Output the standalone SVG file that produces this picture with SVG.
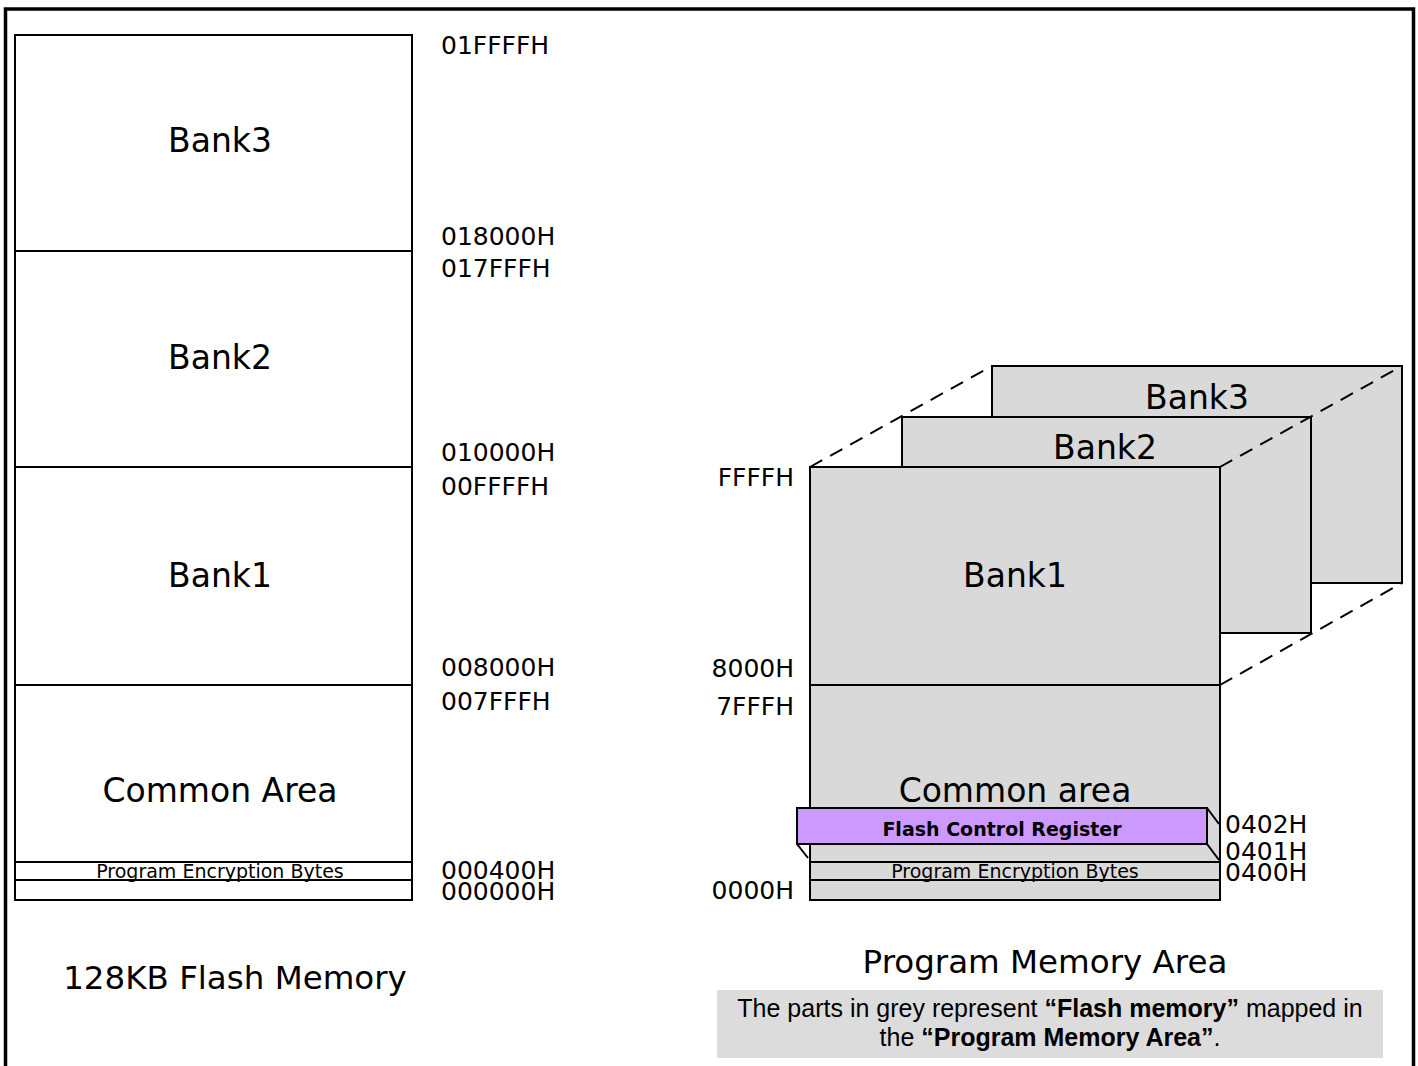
<svg xmlns="http://www.w3.org/2000/svg" width="1418" height="1066" viewBox="0 0 1418 1066">
<style>
.bx{fill:#fff;stroke:#000;stroke-width:2}
.gr{fill:#d9d9d9;stroke:#000;stroke-width:2}
.ln{stroke:#000;stroke-width:2;fill:none}
.dash{stroke:#000;stroke-width:2;fill:none;stroke-dasharray:14,9}
.big{font-family:"DejaVu Sans",Verdana,sans-serif;font-size:33px;text-anchor:middle;fill:#000}
.addr{font-family:"DejaVu Sans",Verdana,sans-serif;font-size:25px;fill:#000}
.small{font-family:"DejaVu Sans",Verdana,sans-serif;font-size:19px;text-anchor:middle;fill:#000}
.title{font-family:"DejaVu Sans",Verdana,sans-serif;font-size:32.5px;text-anchor:middle;fill:#000}
.note{font-family:"Liberation Sans",Arial,sans-serif;font-size:25px;text-anchor:middle;fill:#000}
</style>
<rect x="0" y="0" width="1418" height="1066" fill="#fff"/>
<path d="M5.5 1066 V9 H1413.5 V1066" fill="none" stroke="#000" stroke-width="3.5"/>

<g id="left-map">
<rect class="bx" x="15" y="35" width="397" height="865"/>
<line class="ln" x1="15" y1="251" x2="412" y2="251"/>
<line class="ln" x1="15" y1="467" x2="412" y2="467"/>
<line class="ln" x1="15" y1="685" x2="412" y2="685"/>
<line class="ln" x1="15" y1="862" x2="412" y2="862"/>
<line class="ln" x1="15" y1="880" x2="412" y2="880"/>
<text class="big" x="220" y="152">Bank3</text>
<text class="big" x="220" y="369">Bank2</text>
<text class="big" x="220" y="587">Bank1</text>
<text class="big" x="220" y="802">Common Area</text>
<text class="small" x="220" y="878">Program Encryption Bytes</text>
<text class="addr" x="441" y="54">01FFFFH</text>
<text class="addr" x="441" y="245">018000H</text>
<text class="addr" x="441" y="277">017FFFH</text>
<text class="addr" x="441" y="461">010000H</text>
<text class="addr" x="441" y="495">00FFFFH</text>
<text class="addr" x="441" y="676">008000H</text>
<text class="addr" x="441" y="710">007FFFH</text>
<text class="addr" x="441" y="879">000400H</text>
<text class="addr" x="441" y="900">000000H</text>
<text class="title" x="235" y="989">128KB Flash Memory</text>
</g>

<g id="bank3">
<rect class="gr" x="992" y="366" width="410" height="217"/>
<text class="big" x="1197" y="409">Bank3</text>
</g>
<g id="bank2">
<rect class="gr" x="902" y="417" width="409" height="216"/>
<text class="big" x="1105" y="459">Bank2</text>
</g>
<g id="bank1">
<rect class="gr" x="810" y="467" width="410" height="433"/>
<line class="ln" x1="810" y1="685" x2="1220" y2="685"/>
<line class="ln" x1="810" y1="862" x2="1220" y2="862"/>
<line class="ln" x1="810" y1="880" x2="1220" y2="880"/>
<text class="big" x="1015" y="587">Bank1</text>
<text class="big" x="1015" y="802">Common area</text>
<text class="small" x="1015" y="878">Program Encryption Bytes</text>
</g>
<g id="connectors">
<line class="dash" x1="810" y1="467" x2="992" y2="366"/>
<line class="dash" x1="1220" y1="467" x2="1402" y2="366"/>
<line class="dash" x1="1220" y1="685" x2="1402" y2="583"/>
<line class="ln" x1="1207" y1="808" x2="1219" y2="824"/>
<line class="ln" x1="1207" y1="844" x2="1219" y2="860"/>
<line class="ln" x1="797" y1="844" x2="808" y2="858"/>
</g>
<g id="flash-control-register">
<rect x="797" y="808" width="410" height="36" fill="#cc99ff" stroke="#000" stroke-width="2"/>
<text x="1002" y="836" font-family="'DejaVu Sans',Verdana,sans-serif" font-size="19" font-weight="bold" text-anchor="middle">Flash Control Register</text>
</g>
<g id="right-addresses">
<text class="addr" x="794" y="486" text-anchor="end">FFFFH</text>
<text class="addr" x="794" y="677" text-anchor="end">8000H</text>
<text class="addr" x="794" y="715" text-anchor="end">7FFFH</text>
<text class="addr" x="794" y="899" text-anchor="end">0000H</text>
<text class="addr" x="1225" y="833">0402H</text>
<text class="addr" x="1225" y="860">0401H</text>
<text class="addr" x="1225" y="881">0400H</text>
</g>
<text class="title" x="1045" y="973">Program Memory Area</text>
<g id="note">
<rect x="717" y="990" width="666" height="68" fill="#dcdcdc"/>
<text class="note" x="1050" y="1017">The parts in grey represent <tspan font-weight="bold">“Flash memory”</tspan> mapped in</text>
<text class="note" x="1050" y="1046">the <tspan font-weight="bold">“Program Memory Area”</tspan>.</text>
</g>
</svg>
